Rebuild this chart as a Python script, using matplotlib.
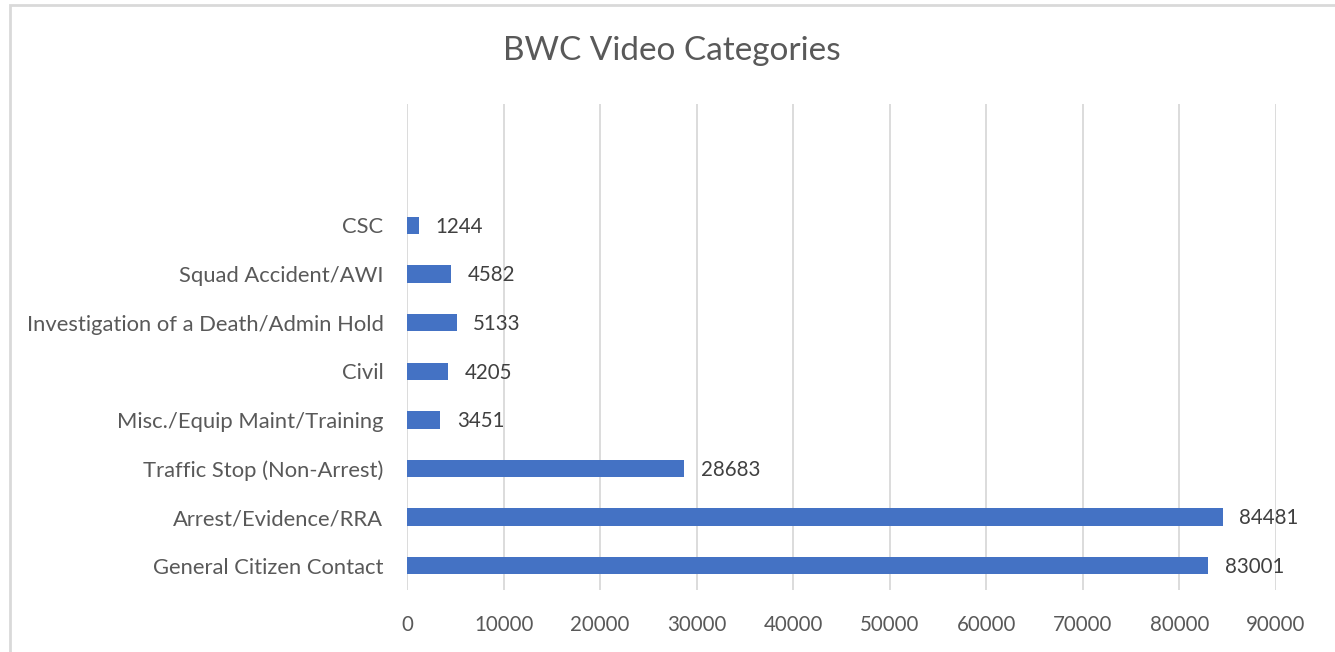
import matplotlib.pyplot as plt
from matplotlib.patches import Rectangle

# categories listed bottom to top; two empty slots sit above CSC
categories = ['General Citizen Contact', 'Arrest/Evidence/RRA', 'Traffic Stop (Non-Arrest)',
              'Misc./Equip Maint/Training', 'Civil', 'Investigation of a Death/Admin Hold',
              'Squad Accident/AWI', 'CSC']
counts = [83001, 84481, 28683, 3451, 4205, 5133, 4582, 1244]
x_ticks = [0, 10000, 20000, 30000, 40000, 50000, 60000, 70000, 80000, 90000]

bar_color = '#4472C4'
text_color = '#595959'
grid_color = '#D9D9D9'

plt.rcParams['font.family'] = ['Lato', 'DejaVu Sans']

fig = plt.figure(figsize=(13.35, 6.52), dpi=100)
ax = fig.add_axes([0.3049, 0.0951, 0.6509, 0.7454])

pos = list(range(len(categories)))
ax.barh(pos, counts, height=0.36, color=bar_color, zorder=3)

for p, v in zip(pos, counts):
    ax.annotate(str(v), (v, p), xytext=(12, -1), textcoords='offset points',
                va='center', ha='left', fontsize=14.8, color='#404040')

ax.set_ylim(-0.5, len(categories) + 1.5)
ax.set_xlim(0, 90000)
ax.set_yticks(pos)
ax.set_yticklabels(categories, fontsize=15.8)
ax.set_xticks(x_ticks)
ax.set_xticklabels([str(t) for t in x_ticks], fontsize=14.8)

ax.tick_params(axis='both', length=0, labelcolor=text_color)
ax.tick_params(axis='y', pad=17)
ax.tick_params(axis='x', pad=18)
ax.grid(axis='x', color=grid_color, linewidth=1.3, zorder=0)
for s in ax.spines.values():
    s.set_visible(False)

fig.text(0.503, 0.922, 'BWC Video Categories', ha='center', va='center',
         fontsize=24, color=text_color)

# outer chart border (cropped on right and bottom in the original)
fig.patches.append(Rectangle((10 / 1335, -0.1), 1.2, 1.1 - 5 / 652, transform=fig.transFigure,
                             fill=False, edgecolor='#D9D9D9', linewidth=2))

fig.savefig('out.png', dpi=100)
